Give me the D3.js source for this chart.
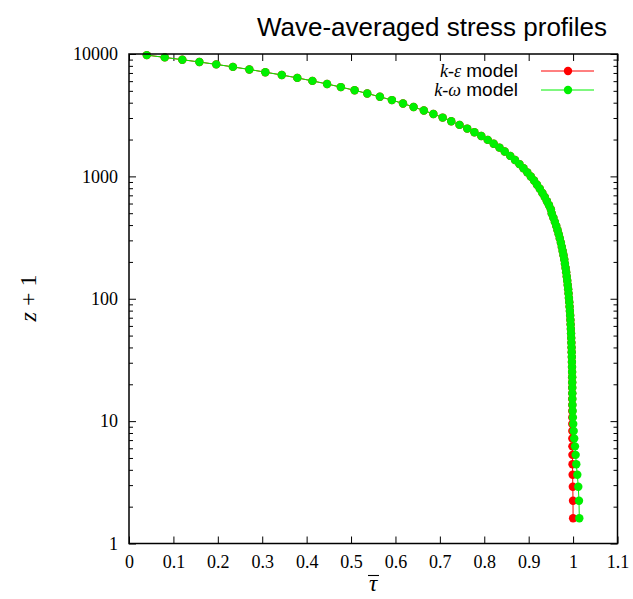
<!DOCTYPE html>
<html>
<head>
<meta charset="utf-8">
<script src="https://cdn.jsdelivr.net/npm/d3@7/dist/d3.min.js"></script>
<style>
  body { margin: 0; background: #fff; }
  svg { display: block; }
</style>
</head>
<body>
<svg width="633" height="599"></svg>
<script>
// z + 1 at each grid level (shared by both runs)
const zPlus1 = [
  1.607, 2.237, 2.91, 3.645, 4.44, 5.30, 6.22, 7.22, 8.30, 9.47,
  10.73, 12.09, 13.56, 15.15, 16.86, 18.71, 20.71, 22.87, 25.20, 27.72,
  30.44, 33.38, 36.55, 39.98, 43.68, 47.68, 52.00, 56.66, 61.70, 67.14,
  73.01, 79.35, 86.20, 93.60, 101.6, 110.2, 119.5, 129.6, 140.5, 152.2,
  164.9, 178.6, 193.4, 209.4, 226.6, 245.3, 265.4, 287.1, 310.6, 335.9,
  363.3, 392.9, 424.8, 459.3, 496.5, 536.8, 580.2, 627.1, 677.8, 732.5,
  791.6, 855.4, 924.3, 998.8, 1079, 1166, 1260, 1361, 1471, 1597,
  1719, 1850, 1987, 2135, 2293, 2458, 2635, 2825, 3023, 3235,
  3455, 3690, 3940, 4202, 4470, 4757, 5051, 5365, 5687, 6028,
  6378, 6736, 7101, 7472, 7846, 8222, 8601, 8982, 9380, 9795
];

// wave-averaged stress, k-epsilon model
const tauKEps = [
  1.0000, 0.9998, 0.9994, 0.9990, 0.9987, 0.9985, 0.9984, 0.9983, 0.9983, 0.9982,
  0.9982, 0.9981, 0.9981, 0.9980, 0.9980, 0.9979, 0.9979, 0.9978, 0.9977, 0.9975,
  0.9973, 0.9971, 0.9968, 0.9965, 0.9962, 0.9958, 0.9954, 0.9950, 0.9945, 0.9940,
  0.9934, 0.9928, 0.9921, 0.9914, 0.9906, 0.9898, 0.9889, 0.9879, 0.9868, 0.9857,
  0.9844, 0.9831, 0.9816, 0.9801, 0.9784, 0.9765, 0.9746, 0.9725, 0.9701, 0.9677,
  0.9650, 0.9621, 0.9590, 0.9556, 0.9519, 0.9500, 0.9457, 0.9411, 0.9362, 0.9308,
  0.9250, 0.9187, 0.9120, 0.9047, 0.8968, 0.8883, 0.8791, 0.8692, 0.8584, 0.8460,
  0.8341, 0.8212, 0.8078, 0.7933, 0.7778, 0.7616, 0.7443, 0.7256, 0.7062, 0.6854,
  0.6639, 0.6408, 0.6170, 0.5920, 0.5650, 0.5365, 0.5080, 0.4770, 0.4460, 0.4130,
  0.3790, 0.3440, 0.3070, 0.2710, 0.2340, 0.1965, 0.1585, 0.1200, 0.0805, 0.0400
];

// wave-averaged stress, k-omega model
const tauKOmega = [
  1.0140, 1.0133, 1.0117, 1.0095, 1.0072, 1.0058, 1.0043, 1.0025, 1.0013, 1.0003,
  0.9995, 0.9990, 0.9986, 0.9984, 0.9983, 0.9982, 0.9981, 0.9980, 0.9978, 0.9976,
  0.9974, 0.9972, 0.9969, 0.9966, 0.9962, 0.9958, 0.9954, 0.9950, 0.9945, 0.9940,
  0.9934, 0.9928, 0.9921, 0.9914, 0.9906, 0.9898, 0.9889, 0.9879, 0.9868, 0.9857,
  0.9844, 0.9831, 0.9816, 0.9801, 0.9784, 0.9765, 0.9746, 0.9725, 0.9701, 0.9677,
  0.9650, 0.9621, 0.9590, 0.9556, 0.9519, 0.9500, 0.9457, 0.9411, 0.9362, 0.9308,
  0.9250, 0.9187, 0.9120, 0.9047, 0.8968, 0.8883, 0.8791, 0.8692, 0.8584, 0.8460,
  0.8341, 0.8212, 0.8078, 0.7933, 0.7778, 0.7616, 0.7443, 0.7256, 0.7062, 0.6854,
  0.6639, 0.6408, 0.6170, 0.5920, 0.5650, 0.5365, 0.5080, 0.4770, 0.4460, 0.4130,
  0.3790, 0.3440, 0.3070, 0.2710, 0.2340, 0.1965, 0.1585, 0.1200, 0.0805, 0.0400
];

const xTicks = [0, 0.1, 0.2, 0.3, 0.4, 0.5, 0.6, 0.7, 0.8, 0.9, 1, 1.1];
const yTicks = [1, 10, 100, 1000, 10000];

const seriesNames = ["k-\u03b5", "k-\u03c9"];
const seriesColors = ["#ff0000", "#00f000"];

/* -----------------------------
   Setup
----------------------------- */

const svg = d3.select("svg");
const W = 633, H = 599;
const margin = { left: 129, right: 15.5, top: 54, bottom: 55.5 };
const serif = "'Liberation Serif', 'Times New Roman', serif";
const sans = "'Liberation Sans', Arial, sans-serif";
const dotR = 4.2;

const x = d3.scaleLinear().domain([0, 1.1]).range([margin.left, W - margin.right]);
const y = d3.scaleLog().domain([1, 10000]).range([H - margin.bottom, margin.top]);

const minorY = [];
yTicks.slice(0, -1).forEach(d => {
  for (let m = 2; m <= 9; m++) minorY.push(d * m);
});

function styleAxis(g) {
  g.select(".domain").remove();
  g.selectAll(".tick line").attr("stroke", "#000").attr("stroke-width", 1);
  g.selectAll(".tick text")
    .attr("fill", "#000")
    .style("font-family", serif)
    .style("font-size", "18px");
}

// bottom + top
svg.append("g")
  .attr("transform", `translate(0,${H - margin.bottom})`)
  .call(d3.axisBottom(x).tickValues(xTicks).tickSize(-7).tickPadding(12)
    .tickFormat(d => String(d)))
  .call(styleAxis);

svg.append("g")
  .attr("transform", `translate(0,${margin.top})`)
  .call(d3.axisTop(x).tickValues(xTicks).tickSize(-7).tickFormat(""))
  .call(styleAxis);

// left + right, major and minor
svg.append("g")
  .attr("transform", `translate(${margin.left},0)`)
  .call(d3.axisLeft(y).tickValues(yTicks).tickSize(-7).tickPadding(11)
    .tickFormat(d3.format("d")))
  .call(styleAxis);

svg.append("g")
  .attr("transform", `translate(${margin.left},0)`)
  .call(d3.axisLeft(y).tickValues(minorY).tickSize(-4).tickFormat(""))
  .call(styleAxis);

svg.append("g")
  .attr("transform", `translate(${W - margin.right},0)`)
  .call(d3.axisRight(y).tickValues(yTicks).tickSize(-7).tickFormat(""))
  .call(styleAxis);

svg.append("g")
  .attr("transform", `translate(${W - margin.right},0)`)
  .call(d3.axisRight(y).tickValues(minorY).tickSize(-4).tickFormat(""))
  .call(styleAxis);

/* -----------------------------
   Series
----------------------------- */

const series = [tauKEps, tauKOmega].map((tau, i) => ({
  name: seriesNames[i],
  color: seriesColors[i],
  points: tau.map((t, j) => ({ t, z: zPlus1[j] }))
}));

const line = d3.line().x(d => x(d.t)).y(d => y(d.z));

series.forEach(s => {
  const g = svg.append("g");
  g.append("path")
    .datum(s.points)
    .attr("fill", "none")
    .attr("stroke", s.color)
    .attr("stroke-width", 1)
    .attr("d", line);
  g.selectAll("circle")
    .data(s.points)
    .enter()
    .append("circle")
    .attr("cx", d => x(d.t))
    .attr("cy", d => y(d.z))
    .attr("r", dotR)
    .attr("fill", s.color);
});

// frame
svg.append("rect")
  .attr("x", margin.left)
  .attr("y", margin.top)
  .attr("width", W - margin.left - margin.right)
  .attr("height", H - margin.top - margin.bottom)
  .attr("fill", "none")
  .attr("stroke", "#000")
  .attr("stroke-width", 1.5);

/* -----------------------------
   Legend
----------------------------- */

const legend = svg.append("g");
series.forEach((s, i) => {
  const ly = 71 + i * 19;
  const txt = legend.append("text")
    .attr("x", 518)
    .attr("y", ly + 6)
    .attr("text-anchor", "end")
    .style("font-size", "18px");
  const [k, sym] = s.name.split("-");
  txt.append("tspan").style("font-family", serif).style("font-style", "italic").text(k);
  txt.append("tspan").style("font-family", serif).text("-");
  txt.append("tspan").style("font-family", serif).style("font-style", "italic").text(sym);
  txt.append("tspan").style("font-family", sans).style("font-size", "19px").text(" model");

  legend.append("line")
    .attr("x1", 541).attr("x2", 594)
    .attr("y1", ly).attr("y2", ly)
    .attr("stroke", s.color)
    .attr("stroke-width", 1);
  legend.append("circle")
    .attr("cx", 568).attr("cy", ly)
    .attr("r", dotR)
    .attr("fill", s.color);
});

/* -----------------------------
   Titles
----------------------------- */

svg.append("text")
  .attr("x", 432)
  .attr("y", 36)
  .attr("text-anchor", "middle")
  .style("font-family", sans)
  .style("font-size", "26px")
  .text("Wave-averaged stress profiles");

// x label: tau with an overbar
const xl = svg.append("g").attr("transform", "translate(373,591)");
xl.append("text")
  .attr("text-anchor", "middle")
  .style("font-family", serif)
  .style("font-style", "italic")
  .style("font-size", "23px")
  .text("\u03c4");
xl.append("line")
  .attr("x1", -5).attr("x2", 6)
  .attr("y1", -15.5).attr("y2", -15.5)
  .attr("stroke", "#000")
  .attr("stroke-width", 1.1);

const yl = svg.append("text")
  .attr("transform", "translate(36,298) rotate(-90)")
  .attr("text-anchor", "middle")
  .style("font-family", serif)
  .style("font-size", "24px");
yl.append("tspan").style("font-style", "italic").text("z");
yl.append("tspan").text(" + 1");
</script>
</body>
</html>
